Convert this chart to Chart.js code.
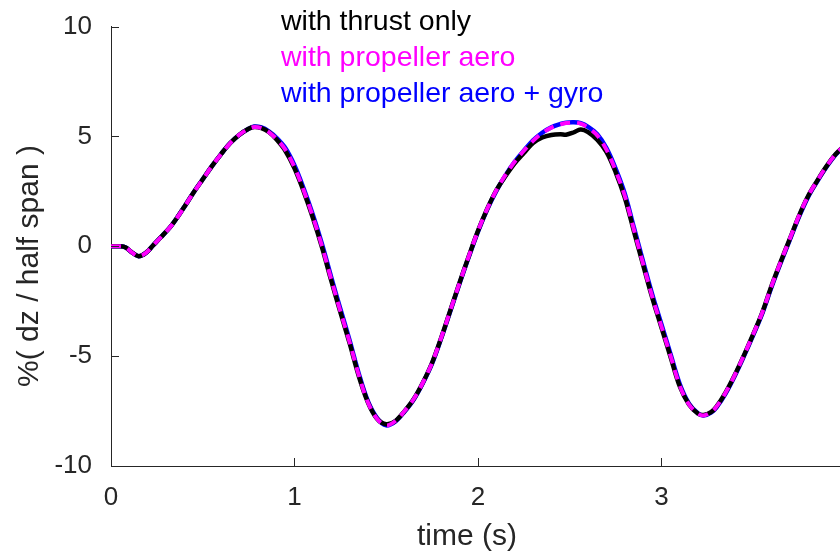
<!DOCTYPE html>
<html>
<head>
<meta charset="utf-8">
<title>Vertical tip deflection</title>
<script src="https://cdn.jsdelivr.net/npm/chart.js@4/dist/chart.umd.min.js"></script>
<style>
  html, body { margin: 0; padding: 0; background: #ffffff; overflow: hidden; }
  #wrap { position: relative; width: 840px; height: 556px; }
</style>
</head>
<body>
<div id="wrap"><canvas id="c"></canvas></div>
<script>
// Sample times (s)
const timeS = [
  0, 0.05, 0.08, 0.11, 0.15, 0.19, 0.23, 0.27, 0.32, 0.36,
  0.40, 0.45, 0.50, 0.55, 0.60, 0.65, 0.70, 0.75, 0.78, 0.82,
  0.86, 0.90, 0.95, 1.00, 1.05, 1.10, 1.15, 1.20, 1.25, 1.30,
  1.35, 1.40, 1.45, 1.50, 1.55, 1.60, 1.65, 1.70, 1.75, 1.80,
  1.85, 1.90, 1.95, 2.00, 2.05, 2.10, 2.15, 2.20, 2.25, 2.30,
  2.35, 2.40, 2.45, 2.48, 2.52, 2.56, 2.60, 2.65, 2.70, 2.75,
  2.80, 2.85, 2.90, 2.95, 3.00, 3.05, 3.10, 3.15, 3.20, 3.23,
  3.27, 3.30, 3.35, 3.40, 3.45, 3.50, 3.55, 3.60, 3.65, 3.70,
  3.75, 3.80, 3.85, 3.90, 3.95, 4.00
];

// Tip deflection, % of half span
const thrustOnly = [
  0, 0, -0.05, -0.25, -0.45, -0.3, 0.05, 0.4, 0.85, 1.3,
  1.8, 2.45, 3.05, 3.65, 4.2, 4.7, 5.08, 5.35, 5.43, 5.38,
  5.2, 4.88, 4.35, 3.55, 2.5, 1.3, -0.05, -1.55, -3.0, -4.4,
  -5.9, -7.1, -7.85, -8.1, -7.95, -7.5, -6.95, -6.2, -5.3, -4.15,
  -2.9, -1.65, -0.45, 0.7, 1.7, 2.55, 3.2, 3.78, 4.25, 4.7,
  4.95, 5.07, 5.1, 5.08, 5.18, 5.32, 5.2, 4.85, 4.3, 3.38,
  2.22, 0.68, -0.85, -2.35, -3.7, -5.05, -6.38, -7.2, -7.62, -7.68,
  -7.55, -7.3, -6.65, -5.85, -4.95, -4.0, -3.0, -1.8, -0.7, 0.35,
  1.4, 2.3, 3.0, 3.65, 4.2, 4.6
];

const propAero = [
  0, 0, -0.05, -0.25, -0.45, -0.3, 0.05, 0.4, 0.85, 1.3,
  1.8, 2.45, 3.05, 3.65, 4.2, 4.7, 5.08, 5.35, 5.43, 5.38,
  5.2, 4.9, 4.4, 3.6, 2.55, 1.35, 0.0, -1.5, -2.95, -4.35,
  -5.85, -7.1, -7.85, -8.15, -7.95, -7.5, -6.95, -6.2, -5.3, -4.15,
  -2.9, -1.65, -0.45, 0.7, 1.7, 2.55, 3.25, 3.85, 4.35, 4.8,
  5.15, 5.4, 5.55, 5.61, 5.63, 5.58, 5.4, 5.05, 4.4, 3.45,
  2.3, 0.75, -0.8, -2.3, -3.65, -5.0, -6.35, -7.2, -7.62, -7.7,
  -7.55, -7.3, -6.65, -5.85, -4.95, -4.0, -3.0, -1.8, -0.7, 0.35,
  1.4, 2.3, 3.0, 3.65, 4.2, 4.6
];

const propAeroGyro = [
  0, 0, -0.05, -0.25, -0.45, -0.3, 0.05, 0.4, 0.85, 1.3,
  1.8, 2.45, 3.05, 3.65, 4.2, 4.7, 5.08, 5.35, 5.45, 5.41,
  5.23, 4.95, 4.47, 3.68, 2.63, 1.44, 0.1, -1.4, -2.85, -4.27,
  -5.78, -7.05, -7.82, -8.15, -7.97, -7.52, -6.97, -6.22, -5.33, -4.18,
  -2.93, -1.68, -0.48, 0.67, 1.67, 2.52, 3.23, 3.84, 4.35, 4.82,
  5.17, 5.42, 5.57, 5.63, 5.65, 5.61, 5.44, 5.1, 4.47, 3.54,
  2.4, 0.85, -0.7, -2.2, -3.56, -4.92, -6.28, -7.16, -7.61, -7.7,
  -7.57, -7.33, -6.69, -5.89, -4.99, -4.04, -3.04, -1.85, -0.75, 0.3,
  1.35, 2.26, 2.97, 3.62, 4.18, 4.58
];

const xTicks = [0, 1, 2, 3];
const yTicks = [-10, -5, 0, 5, 10];

const FONT = '"Liberation Sans", Arial, Helvetica, sans-serif';
const AXIS_COLOR = '#262626';

function pts(ys) { return timeS.map((t, i) => ({ x: t, y: ys[i] })); }

// Inward tick marks, plain-text legend and axis titles
const decorations = {
  id: 'decorations',
  afterDraw(chart) {
    const { ctx, chartArea: a, scales: { x, y } } = chart;
    ctx.save();
    ctx.strokeStyle = AXIS_COLOR;
    ctx.lineWidth = 1;
    ctx.beginPath();
    yTicks.forEach(v => {
      const py = Math.round(y.getPixelForValue(v)) + 0.5;
      ctx.moveTo(a.left, py); ctx.lineTo(a.left + 8, py);
    });
    xTicks.forEach(v => {
      const px = Math.round(x.getPixelForValue(v)) + 0.5;
      ctx.moveTo(px, a.bottom); ctx.lineTo(px, a.bottom - 8);
    });
    ctx.stroke();

    // legend: text only, coloured like its line
    ctx.font = '28.5px ' + FONT;
    ctx.textAlign = 'left';
    ctx.textBaseline = 'alphabetic';
    [0, 1, 2].forEach((di, k) => {
      const ds = chart.data.datasets[di];
      ctx.fillStyle = ds.textColor;
      ctx.fillText(ds.label, 281, 30 + k * 36);
    });

    // axis titles
    ctx.fillStyle = AXIS_COLOR;
    ctx.font = '30px ' + FONT;
    ctx.textAlign = 'center';
    ctx.fillText('time (s)', 467, 545);
    ctx.translate(38, 266);
    ctx.rotate(-Math.PI / 2);
    ctx.fillText('%( dz / half span )', 0, 0);
    ctx.restore();
  }
};

new Chart(document.getElementById('c'), {
  type: 'line',
  data: {
    datasets: [
      {
        label: 'with thrust only',
        data: pts(thrustOnly),
        borderColor: '#000000',
        textColor: '#000000',
        borderWidth: 4.5,
        order: 2
      },
      {
        label: 'with propeller aero',
        data: pts(propAero),
        borderColor: '#ff00ff',
        textColor: '#ff00ff',
        borderWidth: 4,
        borderDash: [10, 7],
        borderCapStyle: 'butt',
        order: 1
      },
      {
        label: 'with propeller aero + gyro',
        data: pts(propAeroGyro),
        borderColor: '#0000ff',
        textColor: '#0000ff',
        borderWidth: 4.5,
        order: 3
      }
    ]
  },
  options: {
    responsive: true,
    maintainAspectRatio: false,
    animation: false,
    devicePixelRatio: 1,
    layout: { padding: { top: 16, right: 0, left: 0, bottom: 0 } },
    elements: {
      point: { radius: 0, hoverRadius: 0 },
      line: { tension: 0.35, fill: false, borderJoinStyle: 'round' }
    },
    plugins: {
      legend: { display: false },
      tooltip: { enabled: false }
    },
    scales: {
      x: {
        type: 'linear',
        min: 0,
        max: 3.973,
        afterFit(s) { s.height = 90; },
        afterBuildTicks(s) { s.ticks = xTicks.map(v => ({ value: v })); },
        grid: { display: false },
        border: { display: true, color: AXIS_COLOR, width: 1 },
        ticks: {
          color: AXIS_COLOR,
          font: { family: FONT, size: 26 },
          padding: 8,
          maxRotation: 0,
          callback: v => String(v)
        }
      },
      y: {
        type: 'linear',
        min: -10,
        max: 10,
        afterFit(s) { s.width = 111; },
        afterBuildTicks(s) { s.ticks = yTicks.map(v => ({ value: v })); },
        grid: { display: false },
        border: { display: true, color: AXIS_COLOR, width: 1 },
        ticks: {
          color: AXIS_COLOR,
          font: { family: FONT, size: 26 },
          padding: 11,
          callback: v => String(v)
        }
      }
    }
  },
  plugins: [decorations]
});
</script>
</body>
</html>
